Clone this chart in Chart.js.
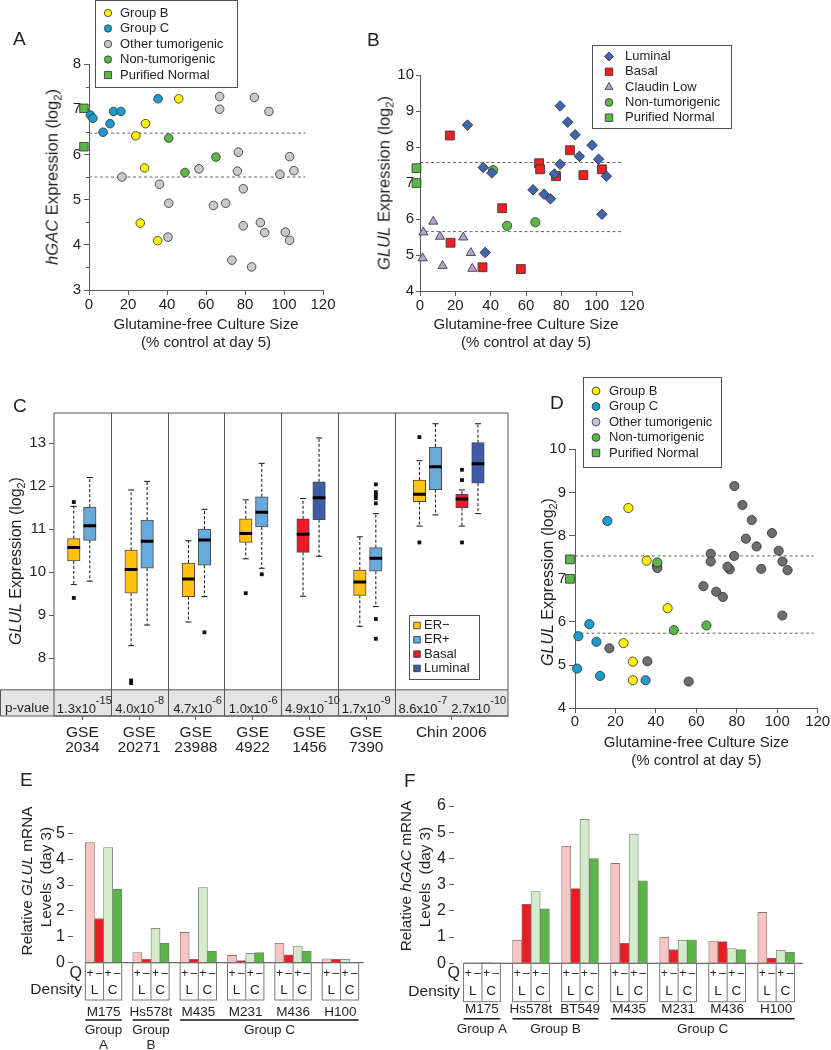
<!DOCTYPE html>
<html>
<head>
<meta charset="utf-8">
<script src="https://cdn.jsdelivr.net/npm/chart.js@4.4.1/dist/chart.umd.min.js"></script>
<style>
  body { margin: 0; background: #fff; font-family: "Liberation Sans", Arial, Helvetica, sans-serif; color: #231f20; }
  #page { position: relative; width: 831px; height: 1050px; overflow: hidden; }
  canvas { position: absolute; }
  .panel { position: absolute; font-size: 19px; line-height: 1; }
  .ytitle { position: absolute; white-space: pre; line-height: 1.25; text-align: center;
            transform: translate(-50%, -50%) rotate(-90deg); }
  sub { font-size: 0.68em; vertical-align: baseline; position: relative; top: 0.35em; line-height: 0; }
</style>
</head>
<body>
<div id="page">
  <canvas id="chartA" width="360" height="360" style="left:0;top:0"></canvas>
  <canvas id="chartB" width="471" height="360" style="left:360px;top:0"></canvas>
  <canvas id="chartC" width="520" height="400" style="left:0;top:360px"></canvas>
  <canvas id="chartD" width="311" height="410" style="left:520px;top:360px"></canvas>
  <canvas id="chartE" width="400" height="280" style="left:0;top:770px"></canvas>
  <canvas id="chartF" width="431" height="280" style="left:400px;top:770px"></canvas>

  <div class="panel" style="left:13px;top:29px">A</div>
  <div class="panel" style="left:367px;top:30px">B</div>
  <div class="panel" style="left:13px;top:396px">C</div>
  <div class="panel" style="left:550px;top:393px">D</div>
  <div class="panel" style="left:20px;top:770px">E</div>
  <div class="panel" style="left:404px;top:771px">F</div>

  <div class="ytitle" style="left:53px;top:177px;font-size:16.6px"><i>hGAC</i> Expression (log<sub>2</sub>)</div>
  <div class="ytitle" style="left:385px;top:183px;font-size:16.6px"><i>GLUL</i> Expression (log<sub>2</sub>)</div>
  <div class="ytitle" style="left:16px;top:561px;font-size:16px"><i>GLUL</i> Expression (log<sub>2</sub>)</div>
  <div class="ytitle" style="left:548px;top:582px;font-size:16px"><i>GLUL</i> Expression (log<sub>2</sub>)</div>
  <div class="ytitle" style="left:27px;top:881px;font-size:15.3px">Relative <i>GLUL</i> mRNA</div>
  <div class="ytitle" style="left:46px;top:877px;font-size:15.3px">Levels  (day 3)</div>
  <div class="ytitle" style="left:406px;top:876px;font-size:15.3px">Relative <i>hGAC</i> mRNA</div>
  <div class="ytitle" style="left:425px;top:877px;font-size:15.3px">Levels  (day 3)</div>
</div>

<script>
// ---- Panel A: hGAC vs glutamine-free culture size
const aGroupBX = [46, 29, 24, 28.5, 26.3, 35.2];
const aGroupBY = [7.23, 6.68, 6.41, 5.70, 4.48, 4.09];
const aGroupCX = [0.7, 2, 7.2, 10.8, 12.6, 16.4, 35.4];
const aGroupCY = [6.87, 6.80, 6.49, 6.68, 6.95, 6.95, 7.23];
const aOtherX = [16.9, 36.2, 40.9, 40.5, 56.4, 63.8, 70.1, 67, 67, 84.8, 92.3, 76.6, 76.1, 79.1, 79.1, 87.9, 90.1, 73.3, 83.4, 97.9, 102.9, 105.1, 100.7, 102.9];
const aOtherY = [5.50, 5.34, 4.92, 4.17, 5.68, 4.87, 4.92, 7.28, 7.00, 7.26, 6.95, 6.05, 5.63, 5.24, 4.42, 4.49, 4.27, 3.66, 3.51, 5.56, 5.95, 5.64, 4.28, 4.10];
const aNonTumX = [40.9, 65.1, 49.2];
const aNonTumY = [6.36, 5.94, 5.60];
const aNormalX = [-2.6, -2.6];
const aNormalY = [7.02, 6.17];
const aCutoffs = [6.47, 5.5];

// ---- Panel B: GLUL by subtype
const bLuminalX = [26.9, 79.3, 83.6, 87.8, 97.4, 90.2, 101.1, 79.3, 76.1, 105.5, 35.8, 40.7, 64, 70.2, 73.8, 103, 36.9];
const bLuminalY = [8.61, 9.14, 8.69, 8.34, 8.05, 7.74, 7.66, 7.52, 7.25, 7.19, 7.43, 7.28, 6.81, 6.69, 6.56, 6.13, 5.07];
const bBasalX = [16.9, 84.9, 67.4, 68, 77, 92.5, 103, 46.5, 17.3, 35.4, 57.1];
const bBasalY = [8.32, 7.91, 7.55, 7.38, 7.19, 7.22, 7.38, 6.30, 5.34, 4.66, 4.61];
const bClaudinX = [7.5, 1.9, 11.3, 24.5, 28.8, 1.5, 12.8, 29.6];
const bClaudinY = [5.93, 5.63, 5.51, 5.49, 5.06, 4.91, 4.70, 4.62];
const bNonTumX = [41.4, 49.3, 65.3];
const bNonTumY = [7.36, 5.81, 5.91];
const bNormalX = [-2, -2];
const bNormalY = [7.41, 7.0];
const bCutoffs = [7.57, 5.65];

// ---- Panel C: GLUL in patient datasets (box stats)
const studyLabels = [['GSE', '2034'], ['GSE', '20271'], ['GSE', '23988'], ['GSE', '4922'], ['GSE', '1456'], ['GSE', '7390'], ['Chin 2006']];
const pMantissa = ['1.3', '4.0', '4.7', '1.0', '4.9', '1.7', '8.6', '2.7'];
const pExponent = ['-15', '-8', '-6', '-6', '-10', '-9', '-7', '-10'];
const cTicks = [8, 9, 10, 11, 12, 13];
const boxGroups = ['ER\u2212', 'ER+', 'Basal', 'Luminal'];
const boxPair = [0, 0, 1, 1, 2, 2, 3, 3, 4, 4, 5, 5, 6, 6, 7, 7];
const boxGroup = [0, 1, 0, 1, 0, 1, 0, 1, 2, 3, 0, 1, 0, 1, 2, 3];
const boxLow = [9.71, 9.79, 8.29, 8.77, 8.84, 9.43, 10.31, 10.09, 9.44, 10.37, 8.74, 9.20, 11.07, 11.33, 11.07, 11.36];
const boxQ1 = [10.26, 10.74, 9.51, 10.09, 9.43, 10.16, 10.69, 11.05, 10.46, 11.22, 9.46, 10.02, 11.64, 11.92, 11.50, 12.07];
const boxMedian = [10.57, 11.08, 10.06, 10.72, 9.84, 10.75, 10.90, 11.39, 10.88, 11.73, 9.77, 10.32, 11.81, 12.45, 11.70, 12.52];
const boxQ3 = [10.78, 11.51, 10.51, 11.21, 10.21, 11.00, 11.24, 11.75, 11.24, 12.10, 10.05, 10.57, 12.14, 12.91, 11.81, 13.01];
const boxHigh = [11.53, 12.20, 11.91, 12.11, 10.73, 11.46, 11.68, 12.53, 11.71, 13.12, 10.82, 11.36, 12.59, 13.45, 11.91, 13.45];
const boxOutliers = [[11.63, 9.40], [], [7.48, 7.42], [], [], [8.6], [9.51], [9.95], [], [], [],
  [12.04, 11.86, 11.79, 11.72, 11.6, 8.91, 8.45], [13.14, 10.69], [], [12.38, 12.14, 10.69], []];

// ---- Panel D: GLUL vs glutamine-free culture size
const dGroupBX = [26.4, 35.4, 45.8, 24, 28.6, 28.6];
const dGroupBY = [8.64, 7.42, 6.32, 5.51, 5.08, 4.65];
const dGroupCX = [16, 7.1, 1.65, 10.6, 1, 12.4, 34.9];
const dGroupCY = [8.34, 5.95, 5.67, 5.54, 4.92, 4.75, 4.65];
const dOtherX = [40.5, 40.7, 17, 78.8, 82.8, 87.4, 84.5, 89.8, 97.4, 100.7, 102.6, 105.1, 92.1, 78.7, 76.5, 75.4, 67.1, 67.1, 63.5, 69.8, 73.1, 102.5, 35.8, 56.2];
const dOtherY = [7.30, 7.25, 5.39, 9.15, 8.71, 8.36, 7.93, 7.75, 8.06, 7.65, 7.40, 7.20, 7.23, 7.53, 7.22, 7.28, 7.58, 7.40, 6.83, 6.70, 6.58, 6.15, 5.09, 4.62];
const dNonTumX = [40.7, 48.9, 65];
const dNonTumY = [7.38, 5.81, 5.92];
const dNormalX = [-2.5, -2.5];
const dNormalY = [7.45, 7.0];
const dCutoffs = [7.53, 5.74];

// ---- Panels E/F: relative mRNA, bars in order L+, L-, C+, C-
const eCells = ['M175', 'Hs578t', 'M435', 'M231', 'M436', 'H100'];
const eLPlus = [4.64, 0.39, 1.17, 0.28, 0.75, 0.15];
const eLMinus = [1.70, 0.13, 0.13, 0.08, 0.30, 0.13];
const eCPlus = [4.45, 1.33, 2.90, 0.36, 0.64, 0.13];
const eCMinus = [2.84, 0.75, 0.44, 0.39, 0.44, 0];
const eGroupNames = [['Group', 'A'], ['Group', 'B'], ['Group C']];
const eGroupFrom = [0, 1, 2];
const eGroupTo = [0, 1, 5];

const fCells = ['M175', 'Hs578t', 'BT549', 'M435', 'M231', 'M436', 'H100'];
const fLPlus = [0, 0.88, 4.46, 3.81, 0.99, 0.85, 1.94];
const fLMinus = [0, 2.25, 2.85, 0.76, 0.52, 0.83, 0.20];
const fCPlus = [0.05, 2.74, 5.49, 4.93, 0.88, 0.56, 0.50];
const fCMinus = [0, 2.08, 3.99, 3.15, 0.90, 0.52, 0.42];
const fGroupNames = [['Group A'], ['Group B'], ['Group C']];
const fGroupFrom = [0, 1, 3];
const fGroupTo = [0, 2, 6];

// ---- styling
const FONT = '"Liberation Sans", Arial, Helvetica, sans-serif';
const TEXT = '#231f20';
const AXIS = '#5a5a5a';
const YELLOW = '#fff200', CYAN = '#1b9dcc', GREEN = '#5bb846';
const NAVY = '#4263ad', RED = '#ed2024', LAVENDER = '#b6a2d2';
const BOX_COLORS = ['#ffc20e', '#67a9d9', '#ed1c24', '#3f5ba9'];
const BAR_COLORS = ['#f7c4c4', '#ed1c24', '#d3ebcb', '#5ab547'];
const X_TITLE = ['Glutamine-free Culture Size', '(% control at day 5)'];

Chart.defaults.font.family = FONT;
Chart.defaults.color = TEXT;
Chart.defaults.animation = false;

function pts(xs, ys) {
  return xs.map((x, i) => ({ x, y: ys[i] }));
}

function boxLegend(lg) {
  return {
    id: 'boxLegend',
    afterDraw(chart) {
      const { ctx } = chart;
      ctx.save();
      ctx.fillStyle = '#fff';
      ctx.fillRect(lg.x, lg.y, lg.w, lg.h);
      ctx.strokeStyle = '#505050';
      ctx.lineWidth = 1;
      ctx.strokeRect(lg.x, lg.y, lg.w, lg.h);
      ctx.font = lg.size + 'px ' + FONT;
      ctx.textBaseline = 'middle';
      ctx.textAlign = 'left';
      lg.items.forEach((it, i) => {
        const y = lg.y + lg.first + i * lg.gap;
        ctx.fillStyle = it.color;
        ctx.strokeStyle = '#2e2e2e';
        ctx.lineWidth = 0.8;
        Chart.helpers.drawPoint(ctx, { pointStyle: it.style, radius: it.radius, rotation: 0, borderWidth: 0.8 }, lg.markerX, y);
        ctx.fillStyle = TEXT;
        ctx.fillText(it.label, lg.textX, y);
      });
      ctx.restore();
    }
  };
}

// short unlabeled marks halfway between the y ticks
function minorTicks(len) {
  return {
    id: 'minorTicks',
    afterDraw(chart) {
      if (!len) return;
      const { ctx, scales: { y } } = chart;
      ctx.save();
      ctx.strokeStyle = AXIS;
      ctx.lineWidth = 1;
      ctx.beginPath();
      for (let v = y.min + 0.5; v < y.max; v += 1) {
        const py = Math.round(y.getPixelForValue(v)) + 0.5;
        ctx.moveTo(y.right - len, py);
        ctx.lineTo(y.right, py);
      }
      ctx.stroke();
      ctx.restore();
    }
  };
}

function scatterPanel(id, p) {
  const datasets = p.series.map(s => ({
    label: s.label,
    data: pts(s.x, s.y),
    pointStyle: s.style,
    pointRadius: s.radius,
    backgroundColor: s.color,
    borderColor: '#2e2e2e',
    borderWidth: 0.8,
    order: s.order || 0,
    clip: false
  }));
  p.cutoffs.forEach(v => datasets.push({
    type: 'line',
    showLine: true,
    data: [{ x: 0, y: v }, { x: p.cutoffEnd, y: v }],
    borderColor: '#666',
    borderWidth: 1,
    borderDash: [3, 2.5],
    pointRadius: 0,
    order: 9,
    clip: false
  }));

  const legend = Object.assign({}, p.legend, {
    items: p.series.map(s => ({ label: s.label, style: s.style, radius: s.radius * 0.85, color: s.legendColor || s.color }))
  });

  return new Chart(document.getElementById(id), {
    type: 'scatter',
    data: { datasets },
    options: {
      responsive: false,
      events: [],
      layout: { padding: p.padding },
      plugins: { legend: { display: false }, tooltip: { enabled: false } },
      scales: {
        x: {
          type: 'linear', min: 0, max: 120,
          ticks: { stepSize: 20, font: { size: 15 }, padding: p.xPad },
          grid: { drawOnChartArea: false, tickLength: 5, color: AXIS },
          border: { color: AXIS },
          title: { display: true, text: X_TITLE, color: TEXT, font: { size: 15, lineHeight: 1.2 }, padding: { top: 0, bottom: p.titlePad } },
          afterFit: s => { s.height = p.xHeight; }
        },
        y: {
          type: 'linear', min: p.yMin, max: p.yMax,
          ticks: { stepSize: 1, font: { size: 15 }, padding: p.yPad },
          grid: { drawOnChartArea: false, tickLength: p.yTick, color: AXIS },
          border: { color: AXIS },
          afterFit: s => { s.width = p.yWidth; }
        }
      }
    },
    plugins: [boxLegend(legend), minorTicks(p.minor)]
  });
}

scatterPanel('chartA', {
  series: [
    { label: 'Group B', x: aGroupBX, y: aGroupBY, style: 'circle', radius: 4.3, color: YELLOW },
    { label: 'Group C', x: aGroupCX, y: aGroupCY, style: 'circle', radius: 4.3, color: CYAN },
    { label: 'Other tumorigenic', x: aOtherX, y: aOtherY, style: 'circle', radius: 4.3, color: '#c9c9c9', order: 1 },
    { label: 'Non-tumorigenic', x: aNonTumX, y: aNonTumY, style: 'circle', radius: 4.3, color: GREEN },
    { label: 'Purified Normal', x: aNormalX, y: aNormalY, style: 'rect', radius: 6, color: GREEN }
  ],
  cutoffs: aCutoffs, cutoffEnd: 111,
  yMin: 3, yMax: 8,
  padding: { left: 0, top: 64, right: 37, bottom: 0 },
  xHeight: 70, yWidth: 89, xPad: 1, yPad: 3, yTick: 5, titlePad: 8, minor: 3,
  legend: { x: 95.5, y: 0.5, w: 142, h: 87, markerX: 108, textX: 120, first: 12.5, gap: 15.5, size: 13 }
});

scatterPanel('chartB', {
  series: [
    { label: 'Luminal', x: bLuminalX, y: bLuminalY, style: 'rectRot', radius: 5.3, color: NAVY },
    { label: 'Basal', x: bBasalX, y: bBasalY, style: 'rect', radius: 6.3, color: RED },
    { label: 'Claudin Low', x: bClaudinX, y: bClaudinY, style: 'triangle', radius: 5.3, color: LAVENDER },
    { label: 'Non-tumorigenic', x: bNonTumX, y: bNonTumY, style: 'circle', radius: 4.6, color: GREEN },
    { label: 'Purified Normal', x: bNormalX, y: bNormalY, style: 'rect', radius: 6.2, color: GREEN }
  ],
  cutoffs: bCutoffs, cutoffEnd: 114,
  yMin: 4, yMax: 10,
  padding: { left: 0, top: 75, right: 199, bottom: 0 },
  xHeight: 69, yWidth: 60, xPad: 1, yPad: 2, yTick: 4, titlePad: 8, minor: 0,
  legend: { x: 232.5, y: 45.5, w: 139, h: 83, markerX: 249, textX: 265, first: 11, gap: 15.3, size: 13 }
});

scatterPanel('chartD', {
  series: [
    { label: 'Group B', x: dGroupBX, y: dGroupBY, style: 'circle', radius: 4.6, color: YELLOW },
    { label: 'Group C', x: dGroupCX, y: dGroupCY, style: 'circle', radius: 4.6, color: CYAN },
    { label: 'Other tumorigenic', x: dOtherX, y: dOtherY, style: 'circle', radius: 4.6, color: '#6e6e6e', legendColor: '#c4c4d6', order: 1 },
    { label: 'Non-tumorigenic', x: dNonTumX, y: dNonTumY, style: 'circle', radius: 4.6, color: GREEN },
    { label: 'Purified Normal', x: dNormalX, y: dNormalY, style: 'rect', radius: 6.2, color: GREEN }
  ],
  cutoffs: dCutoffs, cutoffEnd: 118,
  yMin: 4, yMax: 10,
  padding: { left: 0, top: 89.3, right: 13.3, bottom: 0 },
  xHeight: 61.7, yWidth: 55, xPad: 0, yPad: 3, yTick: 6, titlePad: 0.3, minor: 0,
  legend: { x: 63.5, y: 17.5, w: 138, h: 90, markerX: 76, textX: 89, first: 13.5, gap: 15.5, size: 13 }
});

// ---- Panel C
const studyCenter = [0.5, 1.5, 2.5, 3.5, 4.5, 5.5, 7];
const pairCenter = [0.49, 1.5, 2.51, 3.52, 4.53, 5.53, 6.58, 7.33];
const pStart = [0.05, 1.08, 2.1, 3.08, 4.07, 5.07, 6.07, 7.0];
const PAIR_GAP = 0.141;
const P_ROW_TOP = 7.264;

const boxX = i => pairCenter[boxPair[i]] + (boxGroup[i] % 2 ? 1 : -1) * PAIR_GAP;
const boxIdx = boxPair.map((_, i) => i);

function studyFrame() {
  return {
    id: 'studyFrame',
    beforeDatasetsDraw(chart) {
      const { ctx, chartArea: ca, scales: { x, y } } = chart;
      const rowTop = y.getPixelForValue(P_ROW_TOP);
      ctx.save();
      ctx.fillStyle = '#e4e4e4';
      ctx.fillRect(0.5, rowTop, ca.right - 0.5, ca.bottom - rowTop);
      // whiskers
      ctx.strokeStyle = '#111';
      ctx.lineWidth = 1;
      boxIdx.forEach(i => {
        const cx = x.getPixelForValue(boxX(i));
        ctx.setLineDash([3, 2]);
        ctx.beginPath();
        ctx.moveTo(cx, y.getPixelForValue(boxQ3[i]));
        ctx.lineTo(cx, y.getPixelForValue(boxHigh[i]));
        ctx.moveTo(cx, y.getPixelForValue(boxQ1[i]));
        ctx.lineTo(cx, y.getPixelForValue(boxLow[i]));
        ctx.stroke();
        ctx.setLineDash([]);
        ctx.beginPath();
        [boxHigh[i], boxLow[i]].forEach(v => {
          const py = y.getPixelForValue(v);
          ctx.moveTo(cx - 3, py);
          ctx.lineTo(cx + 3, py);
        });
        ctx.stroke();
      });
      ctx.restore();
    },
    afterDatasetsDraw(chart) {
      const { ctx, chartArea: ca, scales: { x, y } } = chart;
      const rowTop = y.getPixelForValue(P_ROW_TOP);
      ctx.save();
      // medians
      ctx.strokeStyle = '#000';
      ctx.lineWidth = 3;
      ctx.beginPath();
      boxIdx.forEach(i => {
        const cx = x.getPixelForValue(boxX(i));
        const py = y.getPixelForValue(boxMedian[i]);
        ctx.moveTo(cx - 6.3, py);
        ctx.lineTo(cx + 6.3, py);
      });
      ctx.stroke();
      // frame, p-value row and study dividers
      ctx.strokeStyle = '#555';
      ctx.lineWidth = 1;
      ctx.strokeRect(ca.left, ca.top, ca.right - ca.left, ca.bottom - ca.top);
      ctx.beginPath();
      ctx.moveTo(0.5, rowTop);
      ctx.lineTo(ca.right, rowTop);
      ctx.moveTo(0.5, ca.bottom);
      ctx.lineTo(ca.right, ca.bottom);
      ctx.moveTo(0.5, rowTop);
      ctx.lineTo(0.5, ca.bottom);
      [1, 2, 3, 4, 5, 6].forEach(v => {
        const px = Math.round(x.getPixelForValue(v)) + 0.5;
        ctx.moveTo(px, ca.top);
        ctx.lineTo(px, ca.bottom);
      });
      ctx.stroke();
      // p-values
      ctx.fillStyle = TEXT;
      ctx.textAlign = 'left';
      ctx.textBaseline = 'alphabetic';
      ctx.font = '13.5px ' + FONT;
      ctx.fillText('p-value', 5, ca.bottom - 4);
      pMantissa.forEach((m, k) => {
        const x0 = x.getPixelForValue(pStart[k]);
        ctx.font = '13px ' + FONT;
        const main = m + 'x10';
        ctx.fillText(main, x0, ca.bottom - 3.5);
        const w = ctx.measureText(main).width;
        ctx.font = '11px ' + FONT;
        ctx.fillText(pExponent[k], x0 + w, ca.bottom - 11.7);
      });
      ctx.restore();
    }
  };
}

const boxDatasets = boxGroups.map((label, g) => ({
  type: 'bar',
  label,
  data: boxIdx.filter(i => boxGroup[i] === g).map(i => ({ x: boxX(i), y: [boxQ1[i], boxQ3[i]] })),
  backgroundColor: BOX_COLORS[g],
  borderColor: '#4a4a4a',
  borderWidth: 1,
  borderSkipped: false,
  barThickness: 12.5,
  grouped: false
}));

const outlierDataset = {
  type: 'scatter',
  label: 'outliers',
  data: boxIdx.flatMap(i => boxOutliers[i].map(v => ({ x: boxX(i), y: v }))),
  pointStyle: 'rect',
  pointRadius: 2.7,
  backgroundColor: '#111',
  borderWidth: 0
};

new Chart(document.getElementById('chartC'), {
  type: 'bar',
  data: { datasets: [...boxDatasets, outlierDataset] },
  options: {
    responsive: false,
    events: [],
    layout: { padding: { left: 0, top: 53, right: 12, bottom: 0 } },
    plugins: { legend: { display: false }, tooltip: { enabled: false } },
    scales: {
      x: {
        type: 'linear', min: 0, max: 8, offset: false,
        afterBuildTicks: s => { s.ticks = studyCenter.map(value => ({ value })); },
        ticks: { autoSkip: false, maxRotation: 0, font: { size: 15.5, lineHeight: 1 }, padding: 4.5, callback: (v, i) => studyLabels[i] },
        grid: { drawOnChartArea: false, tickLength: 4, color: AXIS, offset: false },
        border: { display: false },
        afterFit: s => { s.height = 44; }
      },
      y: {
        type: 'linear', min: 6.655, max: 13.7,
        afterBuildTicks: s => { s.ticks = cTicks.map(value => ({ value })); },
        ticks: { font: { size: 15 }, padding: 3 },
        grid: { drawOnChartArea: false, tickLength: 5, color: AXIS },
        border: { display: false },
        afterFit: s => { s.width = 54; }
      }
    }
  },
  plugins: [studyFrame(), boxLegend({
    x: 409.5, y: 255.5, w: 70, h: 64, markerX: 417, textX: 424, first: 10, gap: 14.3, size: 13,
    items: boxGroups.map((label, g) => ({ label, style: 'rect', radius: 4.6, color: BOX_COLORS[g] }))
  })]
});

// ---- Panels E and F
function qTable(p) {
  return {
    id: 'qTable',
    afterDraw(chart) {
      const { ctx, chartArea: ca, scales: { x } } = chart;
      const base = ca.bottom;
      const w = p.barWidth;
      ctx.save();
      ctx.strokeStyle = '#444';
      ctx.lineWidth = 1;
      ctx.beginPath();
      ctx.moveTo(x.getPixelForValue(0) - 2 * w, base);
      ctx.lineTo(ca.right, base);
      ctx.stroke();

      ctx.strokeStyle = '#777';
      ctx.fillStyle = TEXT;
      ctx.textAlign = 'center';
      ctx.textBaseline = 'middle';
      p.cells.forEach((_, g) => {
        const cx = x.getPixelForValue(g);
        ctx.strokeRect(cx - 2 * w, base, 4 * w, p.boxHeight);
        ctx.beginPath();
        ctx.moveTo(cx, base);
        ctx.lineTo(cx, base + p.boxHeight);
        ctx.stroke();
        ctx.font = '12px ' + FONT;
        ['+', '\u2013', '+', '\u2013'].forEach((s, k) => ctx.fillText(s, cx + (k - 1.5) * w, base + p.qRow));
        ctx.font = '13.5px ' + FONT;
        ctx.fillText('L', cx - w, base + p.dRow);
        ctx.fillText('C', cx + w, base + p.dRow);
      });

      ctx.strokeStyle = '#111';
      ctx.lineWidth = 1.5;
      ctx.font = '13.5px ' + FONT;
      p.groupNames.forEach((lines, k) => {
        const x0 = x.getPixelForValue(p.groupFrom[k]) - 2 * w;
        const x1 = x.getPixelForValue(p.groupTo[k]) + 2 * w;
        ctx.beginPath();
        ctx.moveTo(x0, base + p.lineY);
        ctx.lineTo(x1, base + p.lineY);
        ctx.stroke();
        lines.forEach((t, j) => ctx.fillText(t, (x0 + x1) / 2, base + p.groupY + j * 15));
      });

      ctx.textAlign = 'right';
      ctx.font = '16px ' + FONT;
      ctx.fillText('Q', ca.left + p.rowLabelX, base + p.qRow);
      ctx.font = '15.5px ' + FONT;
      ctx.fillText('Density', ca.left + p.rowLabelX, base + p.dRow);
      ctx.restore();
    }
  };
}

function qBarPanel(id, p) {
  const names = ['L+', 'L\u2212', 'C+', 'C\u2212'];
  const datasets = p.values.map((vals, k) => ({
    label: names[k],
    data: vals.map((y, x) => ({ x, y })),
    backgroundColor: BAR_COLORS[k],
    borderColor: '#7a7a7a',
    borderWidth: 0.8,
    barThickness: p.barWidth
  }));
  return new Chart(document.getElementById(id), {
    type: 'bar',
    data: { datasets },
    options: {
      responsive: false,
      events: [],
      layout: { padding: p.padding },
      plugins: { legend: { display: false }, tooltip: { enabled: false } },
      scales: {
        x: {
          type: 'linear', min: p.xMin, max: p.xMax, offset: false,
          afterBuildTicks: s => { s.ticks = p.cells.map((_, value) => ({ value })); },
          ticks: { autoSkip: false, maxRotation: 0, font: { size: 13.5 }, padding: p.namePad, callback: (v, i) => p.cells[i] },
          grid: { drawOnChartArea: false, drawTicks: false, offset: false },
          border: { display: false },
          afterFit: s => { s.height = p.xHeight; }
        },
        y: {
          type: 'linear', min: 0, max: p.yMax,
          ticks: { stepSize: 1, font: { size: 16 }, padding: 3 },
          grid: { drawOnChartArea: false, tickLength: 5, color: AXIS },
          border: { display: false },
          afterFit: s => { s.width = p.yWidth; }
        }
      }
    },
    plugins: [qTable(p)]
  });
}

qBarPanel('chartE', {
  cells: eCells,
  values: [eLPlus, eLMinus, eCPlus, eCMinus],
  groupNames: eGroupNames, groupFrom: eGroupFrom, groupTo: eGroupTo,
  yMax: 5, xMin: -0.645, xMax: 5.491,
  padding: { left: 0, top: 63.3, right: 30, bottom: 0 },
  yWidth: 73, xHeight: 87.3, barWidth: 9.1, namePad: 41,
  boxHeight: 37.3, qRow: 11.3, dRow: 27.3, lineY: 57.3, groupY: 67.3, rowLabelX: 9
});

qBarPanel('chartF', {
  cells: fCells,
  values: [fLPlus, fLMinus, fCPlus, fCMinus],
  groupNames: fGroupNames, groupFrom: fGroupFrom, groupTo: fGroupTo,
  yMax: 6, xMin: -0.57, xMax: 6.548,
  padding: { left: 0, top: 36, right: 9, bottom: 0 },
  yWidth: 54, xHeight: 86.7, barWidth: 9.2, namePad: 38,
  boxHeight: 38.4, qRow: 10.7, dRow: 28.4, lineY: 55.4, groupY: 65.7, rowLabelX: 6
});
</script>
</body>
</html>
